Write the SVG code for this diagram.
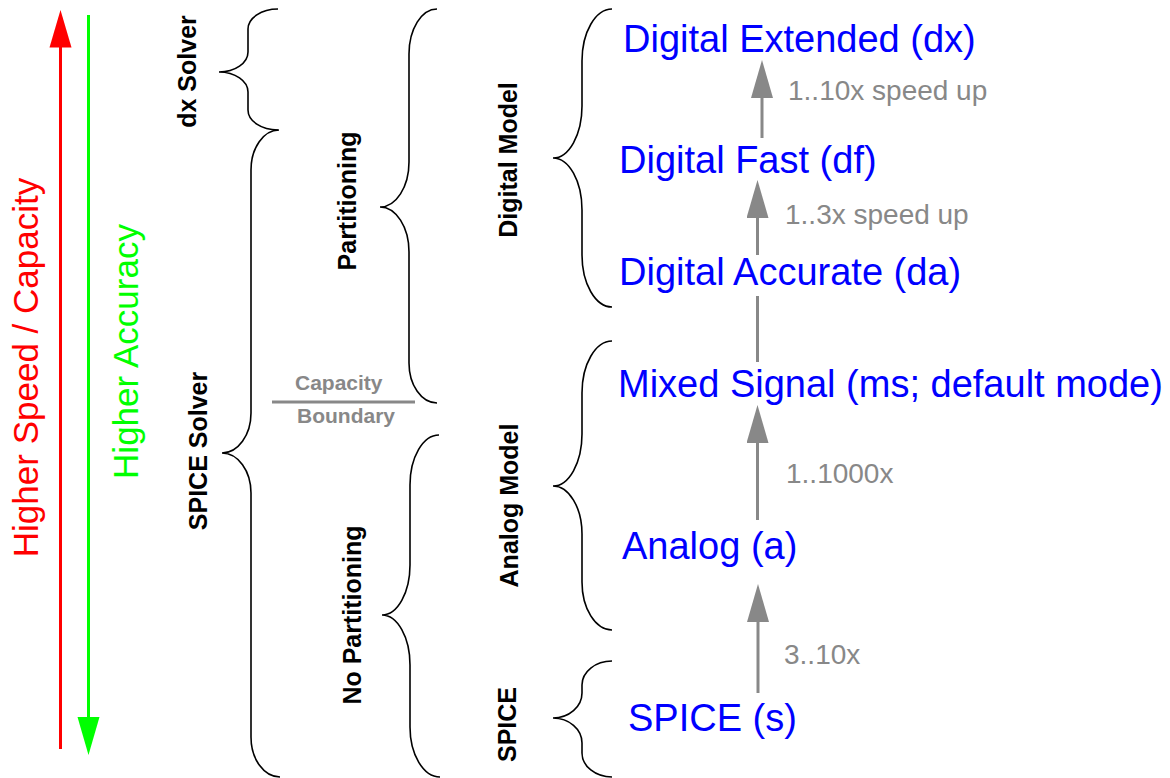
<svg xmlns="http://www.w3.org/2000/svg" width="1170" height="778" viewBox="0 0 1170 778">
  <style>
    .mode { font-family: "Liberation Sans", Arial, sans-serif; font-size: 38px; fill: #0000ff; }
    .gain { font-family: "Liberation Sans", Arial, sans-serif; font-size: 28px; fill: #888888; }
    .group { font-family: "Liberation Sans", Arial, sans-serif; font-size: 25px; font-weight: bold; fill: #000000; text-anchor: middle; }
    .axis { font-family: "Liberation Sans", Arial, sans-serif; font-size: 35px; text-anchor: middle; }
    .bound { font-family: "Liberation Sans", Arial, sans-serif; font-size: 21px; font-weight: bold; fill: #888888; }
    .brace { fill: none; stroke: #000000; stroke-width: 1.6; }
    .link { fill: none; stroke: #888888; stroke-width: 3; }
  </style>
  <defs>
    <!-- filled triangular head; the line ends at the head's base -->
    <marker id="headGray" viewBox="0 0 38 22" refX="0" refY="11" markerWidth="38" markerHeight="22" markerUnits="userSpaceOnUse" orient="auto">
      <path d="M0 0 L38 11 L0 22 Z" fill="#888888"/>
    </marker>
  </defs>

  <rect width="1170" height="778" fill="#ffffff"/>

  <!-- Direction axes -->
  <g id="axis-speed">
    <line x1="60.5" y1="46" x2="60.5" y2="749" stroke="#ff0000" stroke-width="3"/>
    <path d="M60.5 10 L71.5 47.5 L49.5 47.5 Z" fill="#ff0000"/>
    <text class="axis" fill="#ff0000" transform="translate(38,367.5) rotate(-90)">Higher Speed / Capacity</text>
  </g>
  <g id="axis-accuracy">
    <line x1="88.5" y1="15" x2="88.5" y2="718" stroke="#00ff00" stroke-width="3"/>
    <path d="M88.5 755 L99.5 717 L77.5 717 Z" fill="#00ff00"/>
    <text class="axis" fill="#00ff00" transform="translate(137.5,351.5) rotate(-90)">Higher Accuracy</text>
  </g>

  <!-- Solver braces -->
  <g id="solver-dx">
    <path class="brace" d="M278 9 A30 20 0 0 0 248 29 L248 52 A29 20 0 0 1 219 72 A29 20 0 0 1 248 92 L248 110 A30 20 0 0 0 278 130"/>
    <text class="group" transform="translate(196,71.5) rotate(-90)">dx Solver</text>
  </g>
  <g id="solver-spice">
    <path class="brace" d="M279 130 A28 40 0 0 0 251 170 L251 413 A29 40 0 0 1 222 453 A29 40 0 0 1 251 493 L251 737 A29 40 0 0 0 280 777"/>
    <text class="group" transform="translate(207,451) rotate(-90)">SPICE Solver</text>
  </g>

  <!-- Partitioning braces -->
  <g id="partitioning">
    <path class="brace" d="M437 9 A28 45 0 0 0 409 54 L409 162 A29 45 0 0 1 380 207 A29 45 0 0 1 409 252 L409 363 A28 40 0 0 0 437 403"/>
    <text class="group" transform="translate(356,201) rotate(-90)">Partitioning</text>
  </g>
  <g id="no-partitioning">
    <path class="brace" d="M439 435 A29 50 0 0 0 410 485 L410 565 A28 50 0 0 1 382 615 A28 50 0 0 1 410 665 L410 727 A30 50 0 0 0 440 777"/>
    <text class="group" transform="translate(361,615) rotate(-90)">No Partitioning</text>
  </g>

  <!-- Capacity boundary -->
  <g id="capacity-boundary">
    <line x1="272" y1="402" x2="415" y2="402" stroke="#888888" stroke-width="3"/>
    <text class="bound" x="295" y="390">Capacity</text>
    <text class="bound" x="297" y="423">Boundary</text>
  </g>

  <!-- Model braces -->
  <g id="model-digital">
    <path class="brace" d="M612 9 A30 52 0 0 0 582 61 L582 106 A29 52 0 0 1 553 158 A29 52 0 0 1 582 210 L582 255 A30 52 0 0 0 612 307"/>
    <text class="group" transform="translate(517,160) rotate(-90)">Digital Model</text>
  </g>
  <g id="model-analog">
    <path class="brace" d="M612 341 A30 52 0 0 0 582 393 L582 434 A29 52 0 0 1 553 486 A29 48 0 0 1 582 534 L582 582 A30 48 0 0 0 612 630"/>
    <text class="group" transform="translate(518,505.5) rotate(-90)">Analog Model</text>
  </g>
  <g id="model-spice">
    <path class="brace" d="M612 661 A30 24 0 0 0 582 685 L582 693 A29 25 0 0 1 553 718 A29 25 0 0 1 582 743 L582 753 A30 24 0 0 0 612 777"/>
    <text class="group" transform="translate(516,724.5) rotate(-90)">SPICE</text>
  </g>

  <!-- Simulation modes -->
  <g id="mode-dx"><text class="mode" x="623" y="52">Digital Extended (dx)</text></g>
  <g id="mode-df"><text class="mode" x="619" y="173">Digital Fast (df)</text></g>
  <g id="mode-da"><text class="mode" x="619" y="285">Digital Accurate (da)</text></g>
  <g id="mode-ms"><text class="mode" x="618" y="397">Mixed Signal (ms; default mode)</text></g>
  <g id="mode-a"><text class="mode" x="622" y="559">Analog (a)</text></g>
  <g id="mode-s"><text class="mode" x="628" y="731">SPICE (s)</text></g>

  <!-- Speed-up connectors -->
  <g id="connectors">
    <line class="link" x1="762" y1="138" x2="762" y2="98" marker-end="url(#headGray)"/>
    <line class="link" x1="757.5" y1="255" x2="757.5" y2="218" marker-end="url(#headGray)"/>
    <line class="link" x1="757.5" y1="296" x2="757.5" y2="362"/>
    <line class="link" x1="757.5" y1="520" x2="757.5" y2="443" marker-end="url(#headGray)"/>
    <line class="link" x1="758" y1="693" x2="758" y2="622" marker-end="url(#headGray)"/>
    <text class="gain" x="788" y="100">1..10x speed up</text>
    <text class="gain" x="785" y="224">1..3x speed up</text>
    <text class="gain" x="786" y="483">1..1000x</text>
    <text class="gain" x="784" y="664">3..10x</text>
  </g>
</svg>
